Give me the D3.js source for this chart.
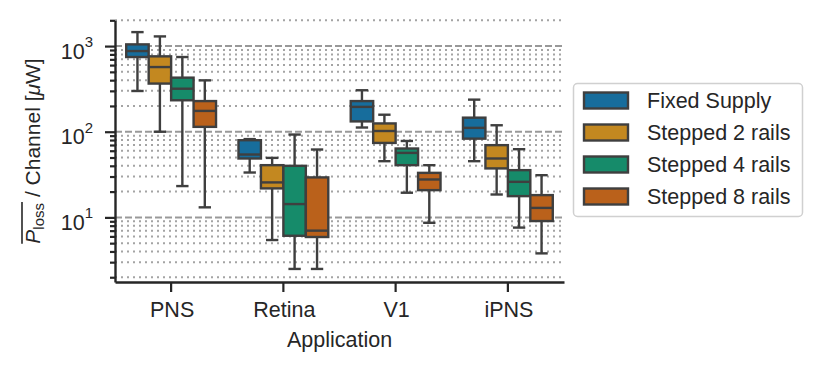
<!DOCTYPE html>
<html>
<head>
<meta charset="utf-8">
<script src="https://d3js.org/d3.v7.min.js"></script>
<style>
	body { margin: 0; background: #fff; }
	svg { font-family: "Liberation Sans", Arial, sans-serif; }
</style>
</head>
<body>
<svg id="chart" width="824" height="374"></svg>
<script>
// categories and series
const applications = ['PNS', 'Retina', 'V1', 'iPNS'];
const seriesNames = ['Fixed Supply', 'Stepped 2 rails', 'Stepped 4 rails', 'Stepped 8 rails'];

// box stats per application: [whisker low, q1, median, q3, whisker high] (µW)
const fixedSupply = [
	[299, 745, 875, 1047, 1456],
	[33.4, 48.7, 54.2, 79.6, 82],
	[112, 132, 195, 228, 305],
	[45.3, 83, 111, 146, 237]
];
const stepped2 = [
	[100, 365, 569, 759, 1297],
	[5.44, 21.8, 25.6, 40.7, 49.5],
	[45.3, 74, 102, 125, 158],
	[18.5, 37.3, 48.7, 69.7, 119]
];
const stepped4 = [
	[23.2, 233, 318, 428, 745],
	[2.5, 6.1, 14.3, 40, 92.7],
	[19.4, 40.7, 56.6, 63.7, 78],
	[7.6, 17.7, 26, 35.6, 62.5]
];
const stepped8 = [
	[13.1, 114, 175, 228, 398],
	[2.5, 5.9, 7.0, 29.3, 62],
	[8.65, 20.8, 27.7, 33.1, 40.7],
	[3.8, 9.06, 12.9, 18.2, 31.1]
];
const allSeries = [fixedSupply, stepped2, stepped4, stepped8];
const yMajorTicks = [10, 100, 1000];

const colors = ['#176d9c', '#c38820', '#168b6a', '#ba611b'];
const edge = '#3f3f3f';
const ink = '#262626';
const lw = 2.4;

const svg = d3.select('#chart');

const x = d3.scaleBand()
	.domain(applications)
	.range([115, 564])
	.paddingInner(0)
	.paddingOuter(0);

const xHue = d3.scaleBand()
	.domain(seriesNames)
	.range([0, x.bandwidth() * 0.8]);

const y = d3.scaleLog()
	.domain([1.76, 2000])
	.range([282, 20.3]);

// grid lines: dashed at decades, dotted for the rest
const gGrid = svg.append('g').attr('class', 'g_grid');
const allTicks = y.ticks().filter(t => t >= y.domain()[0] && t <= y.domain()[1]);
const isMajor = t => Math.abs(Math.log10(t) - Math.round(Math.log10(t))) < 1e-9;

gGrid.selectAll('.minor_grid')
	.data(allTicks.filter(t => !isMajor(t)))
	.enter().append('line')
	.attr('class', 'minor_grid')
	.attr('x1', 115).attr('x2', 564)
	.attr('y1', d => y(d)).attr('y2', d => y(d))
	.attr('stroke', '#a4a4a4')
	.attr('stroke-width', 2)
	.attr('stroke-dasharray', '2,4');

gGrid.selectAll('.major_grid')
	.data(yMajorTicks)
	.enter().append('line')
	.attr('class', 'major_grid')
	.attr('x1', 115).attr('x2', 564)
	.attr('y1', d => y(d)).attr('y2', d => y(d))
	.attr('stroke', '#999')
	.attr('stroke-width', 2)
	.attr('stroke-dasharray', '7,3');

// boxes
const gBoxes = svg.append('g').attr('class', 'g_boxes');
allSeries.forEach((series, si) => {
	const w = xHue.bandwidth();
	const gS = gBoxes.append('g').attr('class', 'g_series');
	series.forEach((s, ai) => {
		const x0 = x(applications[ai]) + x.bandwidth() * 0.1 + xHue(seriesNames[si]);
		const cx = x0 + w / 2;
		const capW = w * 0.55;
		const g = gS.append('g');
		// whiskers
		g.append('line')
			.attr('x1', cx).attr('x2', cx)
			.attr('y1', y(s[0])).attr('y2', y(s[1]))
			.attr('stroke', edge).attr('stroke-width', lw);
		g.append('line')
			.attr('x1', cx).attr('x2', cx)
			.attr('y1', y(s[3])).attr('y2', y(s[4]))
			.attr('stroke', edge).attr('stroke-width', lw);
		// caps
		[s[0], s[4]].forEach(v => {
			g.append('line')
				.attr('x1', cx - capW / 2).attr('x2', cx + capW / 2)
				.attr('y1', y(v)).attr('y2', y(v))
				.attr('stroke', edge).attr('stroke-width', lw);
		});
		g.append('rect')
			.attr('x', x0)
			.attr('y', y(s[3]))
			.attr('width', w)
			.attr('height', y(s[1]) - y(s[3]))
			.attr('fill', colors[si])
			.attr('stroke', edge)
			.attr('stroke-width', lw);
		g.append('line')
			.attr('x1', x0).attr('x2', x0 + w)
			.attr('y1', y(s[2])).attr('y2', y(s[2]))
			.attr('stroke', edge).attr('stroke-width', lw);
	});
});

// axes
const gY = svg.append('g')
	.attr('transform', 'translate(115,0)')
	.call(d3.axisLeft(y).tickValues(yMajorTicks).tickSize(10).tickSizeOuter(0).tickFormat(''));
gY.append('g')
	.call(d3.axisLeft(y).tickValues(allTicks.filter(t => !isMajor(t))).tickSize(5).tickSizeOuter(0).tickFormat(''))
	.select('.domain').remove();
gY.selectAll('line').attr('stroke', ink).attr('stroke-width', 2.2);
gY.select('.domain').attr('stroke', ink).attr('stroke-width', 2.4);

const gYLabels = svg.append('g').attr('class', 'g_ylabels');
yMajorTicks.forEach(t => {
	const txt = gYLabels.append('text')
		.attr('x', 93)
		.attr('y', y(t) + 12.5)
		.attr('text-anchor', 'end')
		.attr('fill', ink)
		.style('font-size', '21.5px');
	txt.append('tspan').text('10');
	txt.append('tspan')
		.attr('dy', -11.5)
		.style('font-size', '15px')
		.text(String(Math.round(Math.log10(t))));
});

const gX = svg.append('g')
	.attr('transform', 'translate(0,282)')
	.call(d3.axisBottom(x).tickSize(10).tickSizeOuter(0).tickPadding(10));
gX.selectAll('line').attr('stroke', ink).attr('stroke-width', 2.2);
gX.select('.domain').attr('stroke', ink).attr('stroke-width', 2.4);
gX.selectAll('text')
	.attr('fill', ink)
	.attr('dx', 1)
	.style('font-size', '21.5px')
	.style('font-family', '"Liberation Sans", Arial, sans-serif');

svg.append('text')
	.attr('x', (115 + 564) / 2)
	.attr('y', 347)
	.attr('text-anchor', 'middle')
	.attr('fill', ink)
	.style('font-size', '21.5px')
	.text('Application');

// y label with overline on P_loss
const gYL = svg.append('g').attr('transform', 'translate(39.5,151) rotate(-90)');
const yl = gYL.append('text')
	.attr('text-anchor', 'middle')
	.attr('fill', ink)
	.style('font-size', '21px');
yl.append('tspan').style('font-style', 'italic').text('P');
yl.append('tspan').attr('dy', 4).style('font-size', '15px').text('loss');
yl.append('tspan').attr('dy', -4).text(' / Channel [');
yl.append('tspan').style('font-style', 'italic').text('\u03bc');
yl.append('tspan').text('W]');
const total = yl.node().getComputedTextLength();
const pLen = yl.node().getSubStringLength(0, 5);
gYL.append('line')
	.attr('x1', -total / 2).attr('x2', -total / 2 + pLen + 1)
	.attr('y1', -17.5).attr('y2', -17.5)
	.attr('stroke', ink).attr('stroke-width', 1.6);

// legend
const gLeg = svg.append('g').attr('class', 'g_legend');
gLeg.append('rect')
	.attr('x', 573.5).attr('y', 83.5)
	.attr('width', 229).attr('height', 133)
	.attr('rx', 4)
	.attr('fill', '#fff')
	.attr('stroke', '#d0d0d0')
	.attr('stroke-width', 1.5);
const legY = d3.scalePoint().domain(seriesNames).range([100.5, 196.5]);
seriesNames.forEach((name, i) => {
	gLeg.append('rect')
		.attr('x', 584).attr('y', legY(name) - 8)
		.attr('width', 44).attr('height', 16)
		.attr('fill', colors[i])
		.attr('stroke', edge)
		.attr('stroke-width', lw);
	gLeg.append('text')
		.attr('x', 647).attr('y', legY(name) + 7.5)
		.attr('fill', ink)
		.style('font-size', '21.5px')
		.text(name);
});
</script>
</body>
</html>
